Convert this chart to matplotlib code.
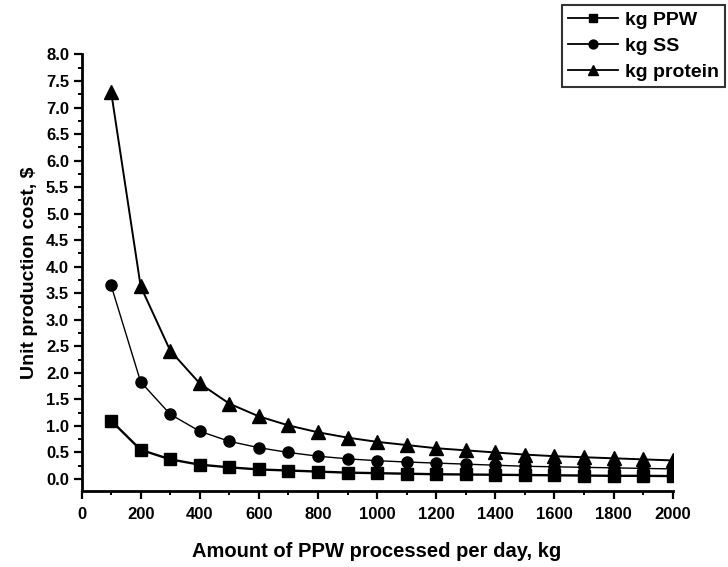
import matplotlib
matplotlib.use("Agg")
import matplotlib.pyplot as plt
from matplotlib.ticker import MultipleLocator, FormatStrFormatter

x = [100, 200, 300, 400, 500, 600, 700, 800, 900, 1000,
     1100, 1200, 1300, 1400, 1500, 1600, 1700, 1800, 1900, 2000]
ppw = [1.10, 0.55, 0.37, 0.27, 0.22, 0.18, 0.16, 0.14, 0.12, 0.11,
       0.10, 0.09, 0.085, 0.08, 0.075, 0.07, 0.065, 0.06, 0.06, 0.055]
ss = [3.65, 1.83, 1.22, 0.90, 0.71, 0.59, 0.50, 0.43, 0.38, 0.345,
      0.32, 0.30, 0.28, 0.26, 0.24, 0.23, 0.22, 0.21, 0.20, 0.19]
protein = [7.30, 3.63, 2.42, 1.80, 1.42, 1.18, 1.01, 0.88, 0.78, 0.70,
           0.64, 0.58, 0.54, 0.50, 0.46, 0.43, 0.41, 0.39, 0.37, 0.35]
labels = ["kg PPW", "kg SS", "kg protein"]

plt.rcParams['font.family'] = ['Liberation Sans', 'DejaVu Sans']
plt.rcParams['font.weight'] = 'bold'

fig = plt.figure(figsize=(7.28, 5.67), dpi=100)
ax = fig.add_axes([0.112, 0.1346, 0.812, 0.7694])

ax.plot(x, ppw, color='black', lw=1.7, marker='s', ms=8, label=labels[0])
ax.plot(x, ss, color='black', lw=1.0, marker='o', ms=8, label=labels[1])
ax.plot(x, protein, color='black', lw=1.4, marker='^', ms=9.5, label=labels[2])

ax.set_xlim(0, 2000)
ax.set_ylim(-0.22, 8.0)
ax.xaxis.set_major_locator(MultipleLocator(200))
ax.xaxis.set_minor_locator(MultipleLocator(100))
ax.yaxis.set_major_locator(MultipleLocator(0.5))
ax.yaxis.set_minor_locator(MultipleLocator(0.25))
ax.yaxis.set_major_formatter(FormatStrFormatter('%.1f'))

for s in ['top', 'right']:
    ax.spines[s].set_visible(False)
for s in ['left', 'bottom']:
    ax.spines[s].set_linewidth(2.0)

ax.tick_params(which='major', direction='out', length=6, width=1.6, labelsize=12)
ax.tick_params(axis='x', which='major', pad=6)
ax.tick_params(axis='y', which='major', pad=3)
ax.tick_params(which='minor', direction='out', length=3, width=1.4)
for lab in ax.get_xticklabels() + ax.get_yticklabels():
    lab.set_fontweight('bold')

ax.set_xlabel("Amount of PPW processed per day, kg", fontsize=14.5, fontweight='bold', labelpad=14)
ax.set_ylabel("Unit production cost, $", fontsize=14, fontweight='bold', labelpad=6)

leg = fig.legend(loc='upper right', bbox_to_anchor=(0.996, 0.991), frameon=True,
                 fancybox=False, edgecolor='black', prop={'weight': 'bold', 'size': 14},
                 handlelength=2.6, borderpad=0.3, labelspacing=0.45, handletextpad=0.35,
                 borderaxespad=0.0, markerscale=0.8)
leg.get_frame().set_linewidth(1.5)
for l in leg.get_lines():
    l.set_linewidth(1.3)

fig.savefig("out.png", dpi=100)
